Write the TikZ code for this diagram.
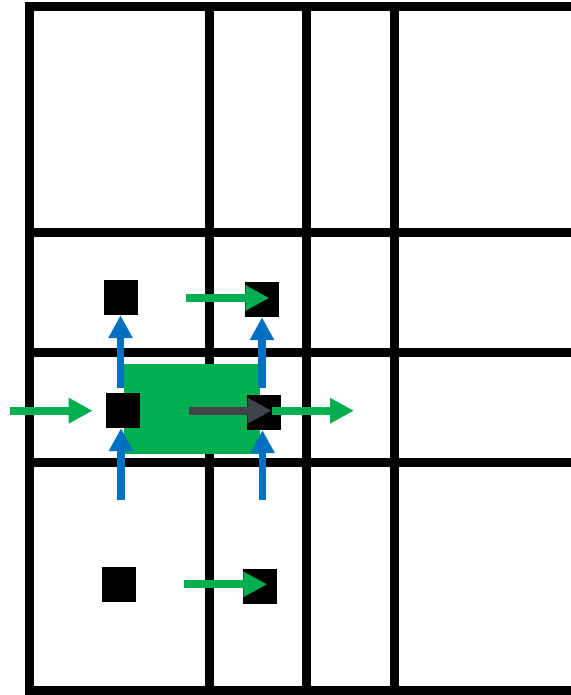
\documentclass[tikz,border=0pt]{standalone}
\usetikzlibrary{arrows.meta}
\definecolor{grn}{HTML}{00B050}
\definecolor{blu}{HTML}{0070C0}
\definecolor{drk}{HTML}{404348}
\begin{document}
\begin{tikzpicture}[x=1pt,y=-1pt,
  gridline/.style={line width=9pt, black},
  blk/.style={fill=black, minimum width=34pt, minimum height=35pt, inner sep=0pt, draw=none},
  zonebox/.style={fill=grn, minimum width=136pt, minimum height=90pt, inner sep=0pt, draw=none},
  garrow/.style={grn, line width=8pt, -{Triangle[width=24pt,length=24pt]}},
  barrow/.style={blu, line width=7.5pt, -{Triangle[width=23pt,length=23pt]}},
  darrow/.style={drk, line width=8pt, -{Triangle[width=24pt,length=24pt]}}]
\useasboundingbox (0,0) rectangle (570,695);
\fill[white] (0,0) rectangle (570,695);
% grid
\foreach \x in {29,209.5,306,394.5} \draw[gridline] (\x,2) -- (\x,700);
\foreach \y in {6.5,232.5,352.5,462.5,690} \draw[gridline] (24.5,\y) -- (575,\y);
% green zone
\node[zonebox] (zone) at (192,409) {};
% black squares
\node[blk] (sq1) at (121,297.5) {};
\node[blk] (sq2) at (262,299.5) {};
\node[blk] (sq3) at (123,410.5) {};
\node[blk] (sq4) at (264,412.5) {};
\node[blk] (sq5) at (119,584.5) {};
\node[blk] (sq6) at (260,586.5) {};
% free ends
\coordinate (b1s) at (120.5,388);
\coordinate (b2s) at (262,388);
\coordinate (b3s) at (121,500);
\coordinate (b4s) at (262.5,500);
\coordinate (g1s) at (186,298);
\coordinate (g1e) at (269.3,298);
\coordinate (g2s) at (10,410.7);
\coordinate (g2e) at (92.7,410.7);
\coordinate (g3s) at (271.7,410.7);
\coordinate (g3e) at (354,410.7);
\coordinate (g4s) at (184.3,584.3);
\coordinate (g4e) at (267.3,584.3);
\coordinate (ds) at (189,410.7);
% blue arrows
\draw[barrow] (b1s) -- (b1s |- sq1.south);
\draw[barrow] (b2s) -- (b2s |- sq2.south);
\draw[barrow] (b3s) -- (b3s |- sq3.south);
\draw[barrow] (b4s) -- (b4s |- sq4.south);
% green and dark arrows
\draw[garrow] (g1s) -- (g1e);
\draw[garrow] (g2s) -- (g2e);
\draw[darrow] (ds) -- (g3s);
\draw[garrow] (g3s) -- (g3e);
\draw[garrow] (g4s) -- (g4e);
\end{tikzpicture}
\end{document}
